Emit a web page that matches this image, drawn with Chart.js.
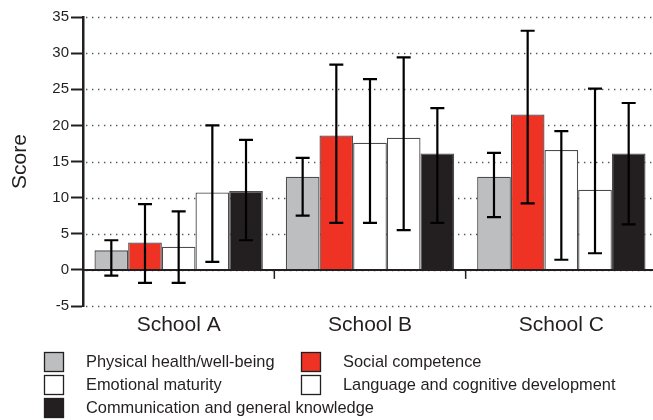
<!DOCTYPE html>
<html>
<head>
<meta charset="utf-8">
<title>School scores</title>
<script src="https://cdn.jsdelivr.net/npm/chart.js@4.4.1/dist/chart.umd.min.js"></script>
<style>
    html, body { margin: 0; padding: 0; background: #fff; overflow: hidden; }
    canvas { display: block; }
</style>
</head>
<body>
<canvas id="scoreChart" width="657" height="420"></canvas>
<script>
const schools = ['School A', 'School B', 'School C'];
const domainNames = [
    'Physical health/well-being',
    'Social competence',
    'Emotional maturity',
    'Language and cognitive development',
    'Communication and general knowledge'
];

// mean scores per domain, one value per school
const physicalHealth = [2.7, 12.9, 12.9];
const socialCompetence = [3.8, 18.6, 21.5];
const emotionalMaturity = [3.2, 17.6, 16.6];
const languageCognitive = [10.7, 18.3, 11.1];
const communicationKnowledge = [10.9, 16.1, 16.1];

// error bar ends (low / high) per domain
const physicalLow = [-0.8, 7.5, 7.3];
const physicalHigh = [4.1, 15.5, 16.2];
const socialLow = [-1.8, 6.5, 9.2];
const socialHigh = [9.1, 28.4, 33.1];
const emotionalLow = [-1.8, 6.5, 1.4];
const emotionalHigh = [8.1, 26.4, 19.2];
const languageLow = [1.1, 5.5, 2.3];
const languageHigh = [20.0, 29.4, 25.1];
const communicationLow = [4.1, 6.5, 6.3];
const communicationHigh = [18.0, 22.4, 23.1];

const yTicks = [-5, 0, 5, 10, 15, 20, 25, 30, 35];

const seriesValues = [physicalHealth, socialCompetence, emotionalMaturity, languageCognitive, communicationKnowledge];
const lowValues = [physicalLow, socialLow, emotionalLow, languageLow, communicationLow];
const highValues = [physicalHigh, socialHigh, emotionalHigh, languageHigh, communicationHigh];
const fillColors = ['#bcbec0', '#ee3224', '#ffffff', '#ffffff', '#231f20'];

const fontFamily = '"Liberation Sans", Arial, Helvetica, sans-serif';
const ink = '#231f20';

// dotted horizontal grid, drawn behind the bars
const dottedGridPlugin = {
    id: 'dottedGrid',
    beforeDatasetsDraw(chart) {
        const ctx = chart.ctx;
        const area = chart.chartArea;
        const y = chart.scales.y;
        ctx.save();
        ctx.strokeStyle = '#58595b';
        ctx.lineWidth = 1.4;
        ctx.setLineDash([1.4, 4.6]);
        y.ticks.forEach(t => {
            const py = Math.round(y.getPixelForValue(t.value)) + 0.5;
            ctx.beginPath();
            ctx.moveTo(area.left + 3, py);
            ctx.lineTo(area.right, py);
            ctx.stroke();
        });
        ctx.restore();
    }
};

// solid line at zero with small ticks between the schools
const zeroLinePlugin = {
    id: 'zeroLine',
    afterDatasetsDraw(chart) {
        const ctx = chart.ctx;
        const area = chart.chartArea;
        const x = chart.scales.x;
        const y0 = chart.scales.y.getPixelForValue(0);
        ctx.save();
        ctx.strokeStyle = ink;
        ctx.lineWidth = 2;
        ctx.beginPath();
        ctx.moveTo(area.left, y0);
        ctx.lineTo(area.right, y0);
        ctx.stroke();
        ctx.lineWidth = 1.5;
        for (let i = 0; i < schools.length - 1; i++) {
            const bx = (x.getPixelForValue(i) + x.getPixelForValue(i + 1)) / 2;
            ctx.beginPath();
            ctx.moveTo(bx, y0);
            ctx.lineTo(bx, y0 + 9);
            ctx.stroke();
        }
        ctx.restore();
    }
};

const errorBarPlugin = {
    id: 'errorBars',
    afterDatasetsDraw(chart) {
        const ctx = chart.ctx;
        const y = chart.scales.y;
        ctx.save();
        ctx.strokeStyle = '#000';
        ctx.lineWidth = 2.2;
        chart.data.datasets.forEach((ds, i) => {
            const meta = chart.getDatasetMeta(i);
            meta.data.forEach((bar, j) => {
                const top = y.getPixelForValue(highValues[i][j]);
                const bottom = y.getPixelForValue(lowValues[i][j]);
                ctx.beginPath();
                ctx.moveTo(bar.x, top);
                ctx.lineTo(bar.x, bottom);
                ctx.moveTo(bar.x - 7, top);
                ctx.lineTo(bar.x + 7, top);
                ctx.moveTo(bar.x - 7, bottom);
                ctx.lineTo(bar.x + 7, bottom);
                ctx.stroke();
            });
        });
        ctx.restore();
    }
};

// two-column legend under the chart
const boxLegendPlugin = {
    id: 'boxLegend',
    afterDraw(chart) {
        const ctx = chart.ctx;
        const boxX = [44, 301];
        const textX = [86, 343];
        const rowTop = [352, 375, 398];
        ctx.save();
        ctx.font = '16.4px ' + fontFamily;
        ctx.textBaseline = 'middle';
        chart.data.datasets.forEach((ds, i) => {
            const col = i % 2;
            const row = Math.floor(i / 2);
            ctx.fillStyle = ds.backgroundColor;
            ctx.fillRect(boxX[col], rowTop[row], 20, 20);
            ctx.strokeStyle = ink;
            ctx.lineWidth = 1.3;
            ctx.strokeRect(boxX[col] + 0.5, rowTop[row] + 0.5, 19, 19);
            ctx.fillStyle = ink;
            ctx.fillText(ds.label, textX[col], rowTop[row] + 10.5);
        });
        ctx.restore();
    }
};

function buildDatasets() {
    return domainNames.map((name, i) => ({
        label: name,
        data: seriesValues[i],
        backgroundColor: fillColors[i],
        borderColor: '#4d4d4f',
        borderWidth: 1.3,
        categoryPercentage: 0.88,
        barPercentage: 1.0
    }));
}

const ctx = document.getElementById('scoreChart').getContext('2d');
new Chart(ctx, {
    type: 'bar',
    data: {
        labels: schools,
        datasets: buildDatasets()
    },
    options: {
        responsive: false,
        animation: false,
        layout: {
            padding: { top: 17, right: 0, bottom: 74, left: 0 }
        },
        plugins: {
            legend: { display: false },
            tooltip: { enabled: false }
        },
        scales: {
            x: {
                grid: { display: false, drawTicks: false },
                border: { display: false },
                ticks: {
                    color: ink,
                    padding: 7,
                    font: { family: fontFamily, size: 21 }
                },
                afterFit(scale) {
                    scale.height = 40;
                }
            },
            y: {
                min: -5,
                max: 35,
                afterBuildTicks(scale) {
                    scale.ticks = yTicks.map(v => ({ value: v }));
                },
                grid: {
                    drawOnChartArea: false,
                    tickColor: ink,
                    tickWidth: 2,
                    tickLength: 12
                },
                border: {
                    display: true,
                    color: ink,
                    width: 2.5
                },
                ticks: {
                    color: ink,
                    padding: 2,
                    font: { family: fontFamily, size: 15 }
                },
                title: {
                    display: true,
                    text: 'Score',
                    color: ink,
                    padding: { top: 8, bottom: 0 },
                    font: { family: fontFamily, size: 21 }
                },
                afterFit(scale) {
                    scale.width = 83;
                }
            }
        }
    },
    plugins: [dottedGridPlugin, zeroLinePlugin, errorBarPlugin, boxLegendPlugin]
});
</script>
</body>
</html>
